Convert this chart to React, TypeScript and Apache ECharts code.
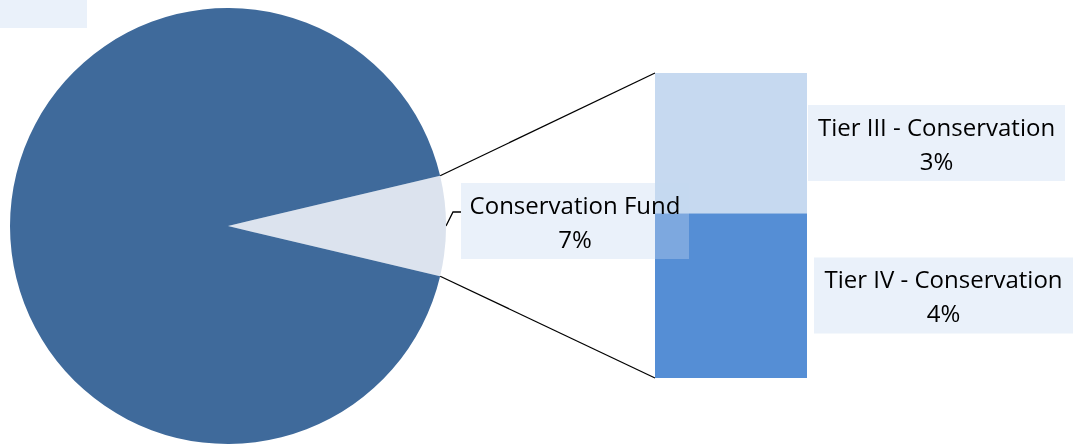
import React, { useEffect, useRef } from "react";
import * as echarts from "echarts";

const pieNames = ["Conservation Fund", "Other"];
const pieValues = [7.4, 92.6];
const barNames = ["Tier IV - Conservation", "Tier III - Conservation"];
const barValues = [4.0, 3.4];
const barCategory = ["Conservation Fund"];

const W = 1073;
const H = 445;
const PIE_CX = 228;
const PIE_CY = 226;
const PIE_R = 218;
const GRID = { left: 655, top: 73, width: 152, height: 305 };
const FONT = "'Open Sans', 'Noto Sans', sans-serif";
const BOX_BG = "rgba(198,217,240,0.36)";
const LINE_W = 1.3;

export default function App() {
  const ref = useRef<HTMLDivElement>(null);
  useEffect(() => {
    if (!ref.current) return;
    const chart = echarts.init(ref.current, null, { renderer: "svg" });
    const total = pieValues.reduce((a, b) => a + b, 0);
    const fundAngle = (pieValues[0] / total) * 360;
    const half = fundAngle / 2;
    const rad = (half * Math.PI) / 180;
    const topPt = [PIE_CX + PIE_R * Math.cos(rad), PIE_CY - PIE_R * Math.sin(rad)];
    const botPt = [PIE_CX + PIE_R * Math.cos(rad), PIE_CY + PIE_R * Math.sin(rad)];
    const barSum = barValues.reduce((a, b) => a + b, 0);

    const barLabel = (idx: number, boxW: number, gap: number) => ({
      show: true,
      formatter: (p: any) => `${barNames[idx]}\n${Math.round((p.value / total) * 100)}%`,
      fontSize: 24,
      lineHeight: 34,
      color: "#000",
      fontFamily: FONT,
      backgroundColor: BOX_BG,
      padding: [4, 6],
      width: boxW - 12,
      align: "center",
      verticalAlign: "middle",
    });
    const barLayout = (boxW: number, gap: number) => (p: any) => ({
      x: p.rect.x + p.rect.width + gap + boxW / 2,
      y: p.rect.y + p.rect.height / 2,
      align: "center",
      verticalAlign: "middle",
    });

    chart.setOption({
      animation: false,
      textStyle: { fontFamily: FONT },
      grid: { left: GRID.left, top: GRID.top, width: GRID.width, height: GRID.height },
      xAxis: { type: "category", data: barCategory, show: false },
      yAxis: { type: "value", min: 0, max: barSum, show: false },
      graphic: [
        { type: "rect", left: 0, top: 0, shape: { width: 87, height: 28 }, style: { fill: BOX_BG } },
        {
          type: "line",
          shape: { x1: topPt[0], y1: topPt[1], x2: GRID.left, y2: GRID.top },
          style: { stroke: "#000", lineWidth: LINE_W },
        },
        {
          type: "line",
          shape: { x1: botPt[0], y1: botPt[1], x2: GRID.left, y2: GRID.top + GRID.height },
          style: { stroke: "#000", lineWidth: LINE_W },
        },
      ],
      series: [
        {
          type: "bar",
          name: barNames[0],
          stack: "tiers",
          barWidth: "100%",
          z: 2,
          data: [{ value: barValues[0], name: barNames[0] }],
          itemStyle: { color: "#558ED5" },
          label: barLabel(0, 259, 7),
          labelLayout: barLayout(259, 7),
          emphasis: { disabled: true },
        },
        {
          type: "bar",
          name: barNames[1],
          stack: "tiers",
          barWidth: "100%",
          z: 2,
          data: [{ value: barValues[1], name: barNames[1] }],
          itemStyle: { color: "#C6D9F0" },
          label: barLabel(1, 257, 1),
          labelLayout: barLayout(257, 1),
          emphasis: { disabled: true },
        },
        {
          type: "pie",
          z: 5,
          center: [PIE_CX, PIE_CY],
          radius: [0, PIE_R],
          startAngle: half,
          clockwise: true,
          data: [
            {
              name: pieNames[0],
              value: pieValues[0],
              itemStyle: { color: "#DCE3EE" },
              label: {
                show: true,
                formatter: (p: any) => `${p.name}\n${Math.round(p.percent)}%`,
                fontSize: 24,
                lineHeight: 34,
                color: "#000",
                fontFamily: FONT,
                backgroundColor: BOX_BG,
                padding: [4, 7],
                width: 214,
                align: "center",
              },
              labelLine: { show: true, lineStyle: { color: "#000", width: LINE_W } },
            },
            {
              name: pieNames[1],
              value: pieValues[1],
              itemStyle: { color: "#3F6A9B" },
              label: { show: false },
              labelLine: { show: false },
            },
          ],
          labelLayout: (params: any) => {
            if (params.dataIndex !== 0) return {};
            return {
              x: 575,
              y: 221,
              align: "center",
              verticalAlign: "middle",
              labelLinePoints: [
                [446, 226],
                [453, 212],
                [461, 212],
              ],
            };
          },
          emphasis: { disabled: true },
        },
      ],
    });
    return () => chart.dispose();
  }, []);
  return <div ref={ref} style={{ position: "fixed", left: 0, top: 0, width: W, height: H }} />;
}
